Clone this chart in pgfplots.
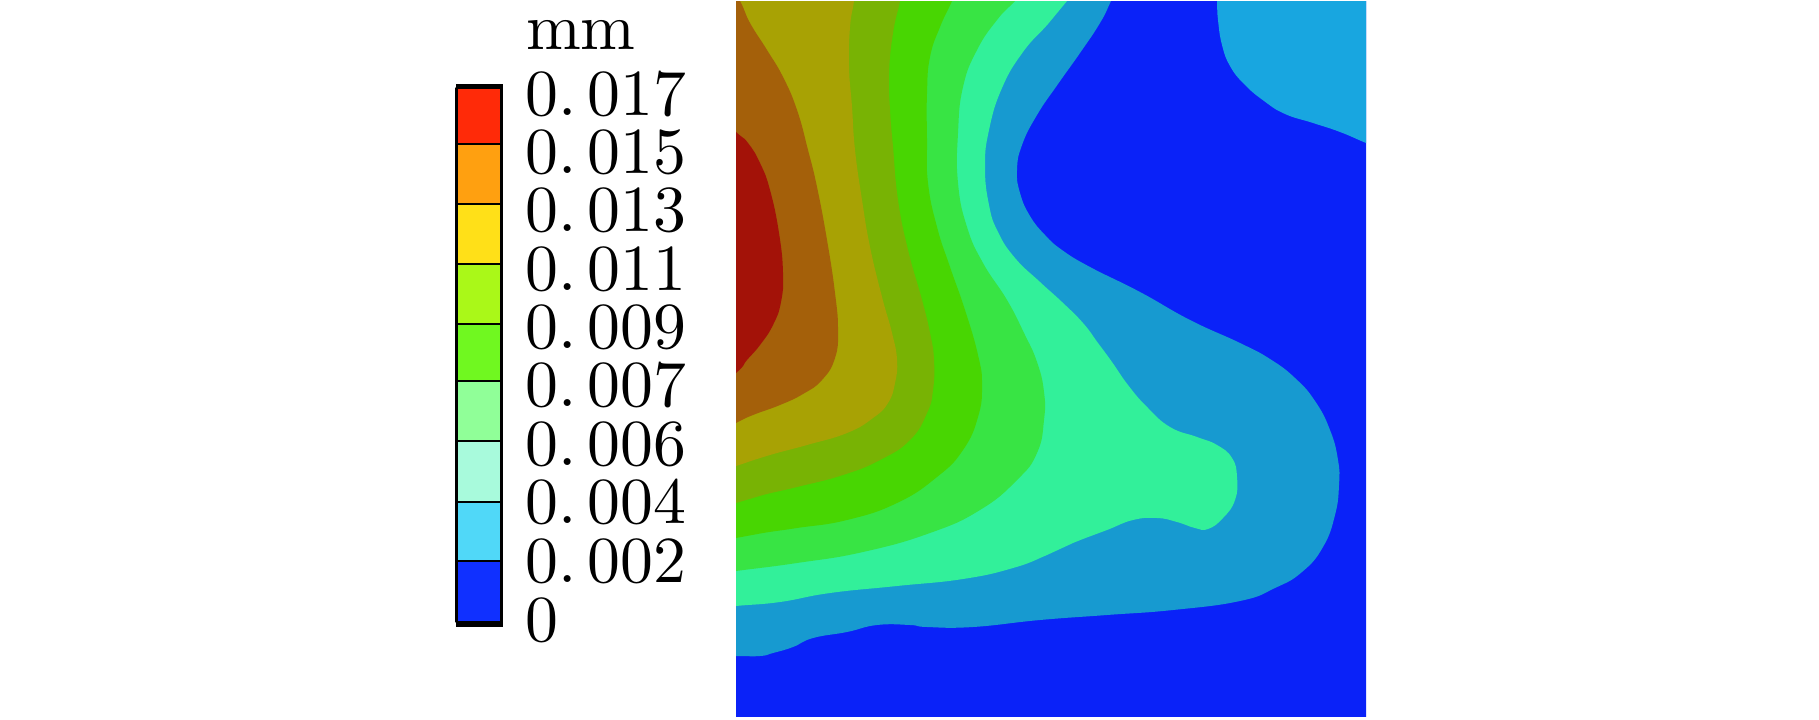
\documentclass[border=0pt]{standalone}
\usepackage{fontspec}
\usepackage{pgfplots}
\pgfplotsset{compat=1.18}
% the 10pt design of Latin Modern keeps its weight when set large
\newfontfamily\labfont{lmroman10-regular}[Extension=.otf]
% map bands, highest level first
\definecolor{mapA}{HTML}{A31208}
\definecolor{mapB}{HTML}{A4600A}
\definecolor{mapC}{HTML}{A8A204}
\definecolor{mapD}{HTML}{78B304}
\definecolor{mapE}{HTML}{48D602}
\definecolor{mapF}{HTML}{38E444}
\definecolor{mapG}{HTML}{32F09A}
\definecolor{mapH}{HTML}{179AD0}
\definecolor{mapI}{HTML}{0A22F8}
\definecolor{mapJ}{HTML}{18A6E0}
% colour bar
\definecolor{barA}{HTML}{FF2A08}
\definecolor{barB}{HTML}{FFA010}
\definecolor{barC}{HTML}{FFE018}
\definecolor{barD}{HTML}{AAF818}
\definecolor{barE}{HTML}{70F820}
\definecolor{barF}{HTML}{90FF98}
\definecolor{barG}{HTML}{A8FADC}
\definecolor{barH}{HTML}{50D8F8}
\definecolor{barI}{HTML}{1030FF}
\newcommand{\lab}[1]{0.\hspace{11bp}#1}
\pgfplotsset{
  band/.style={draw=none, fill=#1, mark=none, smooth, tension=0.8},
  seg/.style={draw=black, line width=2.8bp, fill=#1, mark=none, line join=round},
}
\begin{document}
\begin{tikzpicture}[x=1bp,y=1bp]
\path[use as bounding box] (0,0) rectangle (1819,720);
% ---- contour map, pixel coordinates of the figure
\begin{axis}[name=map, at={(736bp,4bp)}, anchor=south west,
  scale only axis, width=630bp, height=714bp,
  xmin=736, xmax=1366, ymin=2, ymax=716, y dir=reverse,
  hide axis, clip=true]
\addplot[draw=none, fill=mapI, mark=none] coordinates {(700,-30) (1400,-30) (1400,750) (700,750)};
\addplot[band=mapJ] coordinates {(1216,-30) (1217,1) (1218,20) (1222,45) (1230,66) (1244,84) (1264,101) (1285,114) (1313,123) (1340,132) (1366,143) (1400,157) (1400,-30)};
\addplot[band=mapH] coordinates {(1125,-30) (1111,1) (1100,23) (1080,53) (1058,84) (1037,115) (1022,145) (1017,170) (1020,193) (1030,216) (1045,235) (1062,250) (1090,267) (1140,292) (1190,320) (1240,343) (1270,359) (1295,378) (1315,401) (1330,430) (1338,460) (1339,485) (1335,515) (1323,547) (1302,572) (1275,588) (1240,601) (1173,610) (1107,615) (1040,620) (973,627) (927,627) (910,625) (877,625) (847,632) (813,638) (793,647) (773,653) (760,656) (736,656) (700,656) (700,-30)};
\addplot[band=mapG] coordinates {(1090,-30) (1067,1) (1048,24) (1023,52) (1002,88) (989,130) (985,167) (989,205) (998,232) (1015,258) (1040,282) (1062,302) (1083,323) (1098,343) (1112,362) (1128,385) (1147,407) (1170,427) (1197,437) (1217,445) (1232,458) (1237,477) (1235,500) (1223,518) (1208,529) (1195,528) (1177,522) (1157,518) (1133,520) (1107,530) (1073,543) (1047,555) (1013,568) (963,579) (897,586) (830,593) (780,602) (736,606) (700,610) (700,-30)};
\addplot[band=mapF] coordinates {(1045,-30) (1015,1) (997,20) (977,50) (963,87) (958,133) (958,183) (967,227) (983,263) (1007,300) (1024,333) (1037,362) (1044,392) (1044,420) (1037,453) (1017,480) (980,510) (930,533) (863,552) (797,563) (736,571) (700,576) (700,-30)};
\addplot[band=mapE] coordinates {(965,-30) (952,1) (940,27) (930,57) (927,93) (927,140) (928,183) (937,227) (950,267) (965,310) (978,355) (982,385) (978,417) (963,450) (937,477) (897,503) (847,520) (797,528) (763,533) (736,538) (700,544) (700,-30)};
\addplot[band=mapD] coordinates {(906,-30) (900,1) (893,33) (889,73) (890,110) (893,147) (898,200) (908,250) (922,300) (930,333) (934,360) (933,390) (927,413) (910,440) (880,460) (843,475) (797,487) (763,495) (736,503) (700,512) (700,-30)};
\addplot[band=mapC] coordinates {(858,-30) (854,1) (850,27) (849,67) (852,107) (855,150) (862,200) (870,247) (882,297) (892,333) (897,360) (895,383) (888,403) (873,418) (847,433) (807,445) (770,455) (736,466) (700,478) (700,-30)};
\addplot[band=mapB] coordinates {(722,-30) (740,1) (750,23) (767,50) (783,77) (797,110) (808,150) (817,187) (827,240) (835,293) (838,330) (835,358) (822,380) (803,394) (780,405) (753,415) (736,423) (700,442) (700,-30)};
\addplot[band=mapA] coordinates {(700,100) (736,132) (748,143) (760,163) (770,190) (779,233) (783,273) (781,302) (773,325) (760,345) (747,360) (736,373) (700,400)};
\end{axis}
% ---- colour bar with its levels as tick labels
\begin{axis}[name=bar, at={(455bp,93bp)}, anchor=south west,
  scale only axis, width=48bp, height=544bp,
  xmin=455, xmax=503, ymin=83, ymax=627, y dir=reverse,
  axis line style={draw=none}, xtick=\empty, clip=false,
  yticklabel pos=right, tick style={draw=none},
  ytick={94,152,210,269,327,385,444,502,560,619},
  yticklabels={\lab{017},\lab{015},\lab{013},\lab{011},\lab{009},\lab{007},\lab{006},\lab{004},\lab{002},0},
  yticklabel style={font=\labfont\fontsize{66}{70}\selectfont, anchor=west, xshift=22bp, inner sep=0pt, text height=44bp, text depth=0pt}]
\addplot[draw=black, fill=black, mark=none] coordinates {(456,84) (502,84) (502,626) (456,626)};
\addplot[seg=barA] coordinates {(456.5,88) (501.5,88) (501.5,144) (456.5,144)} -- cycle;
\addplot[seg=barB] coordinates {(456.5,144) (501.5,144) (501.5,204) (456.5,204)} -- cycle;
\addplot[seg=barC] coordinates {(456.5,204) (501.5,204) (501.5,264) (456.5,264)} -- cycle;
\addplot[seg=barD] coordinates {(456.5,264) (501.5,264) (501.5,324) (456.5,324)} -- cycle;
\addplot[seg=barE] coordinates {(456.5,324) (501.5,324) (501.5,381) (456.5,381)} -- cycle;
\addplot[seg=barF] coordinates {(456.5,381) (501.5,381) (501.5,441) (456.5,441)} -- cycle;
\addplot[seg=barG] coordinates {(456.5,441) (501.5,441) (501.5,502) (456.5,502)} -- cycle;
\addplot[seg=barH] coordinates {(456.5,502) (501.5,502) (501.5,561) (456.5,561)} -- cycle;
\addplot[seg=barI] coordinates {(456.5,561) (501.5,561) (501.5,622) (456.5,622)} -- cycle;
\end{axis}
\node[anchor=base west, inner sep=0pt, font=\labfont\fontsize{66}{70}\selectfont] at (526,670) {mm};
\end{tikzpicture}
\end{document}
